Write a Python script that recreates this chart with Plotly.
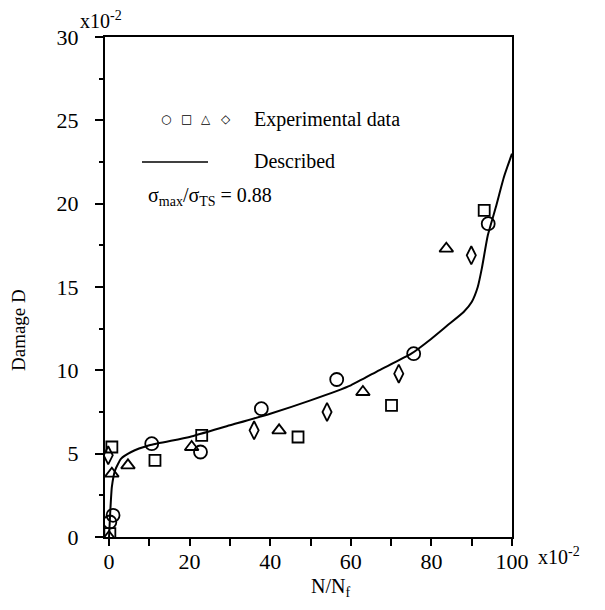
import plotly.graph_objects as go

# ---- data (units of x10^-2) ----
circle_x = [0.2, 1.0, 10.6, 22.7, 37.8, 56.5, 75.6, 94.1]
circle_y = [0.9, 1.3, 5.6, 5.1, 7.7, 9.45, 11.0, 18.8]
square_x = [0.2, 0.7, 11.4, 23.0, 46.9, 70.1, 93.1]
square_y = [0.2, 5.4, 4.6, 6.1, 6.0, 7.9, 19.6]
triangle_x = [0.0, 0.7, 4.7, 20.5, 42.2, 63.0, 83.7]
triangle_y = [0.0, 3.8, 4.3, 5.4, 6.4, 8.7, 17.3]
diamond_x = [-0.2, 36.0, 54.1, 71.9, 89.9]
diamond_y = [4.9, 6.4, 7.5, 9.8, 16.9]

curve_x = [0, 0.3, 0.7, 1.5, 3, 5.5, 10, 20, 30, 40, 50, 60, 67, 75, 80, 84, 88, 90, 91.5, 92.5, 94, 96, 98, 100]
curve_y = [0, 1.5, 3.0, 4.0, 4.7, 5.1, 5.5, 6.0, 6.7, 7.4, 8.2, 9.1, 10.0, 11.0, 11.9, 12.7, 13.5, 14.1, 15.0, 16.1, 18.1, 19.8, 21.6, 23.0]

x_ticks = [0, 20, 40, 60, 80, 100]
y_ticks = [0, 5, 10, 15, 20, 25, 30]

# ---- layout geometry (page pixels; the page body has an 8px margin) ----
PAGE_W, PAGE_H = 605, 610
OFF = 8
W, H = PAGE_W - OFF, PAGE_H - OFF
# plot area in page pixels
PX0, PX1, PY0, PY1 = 105, 512, 37, 537
L, R, T, B = PX0 - OFF, PAGE_W - PX1, PY0 - OFF, PAGE_H - PY1
PW, PH = PX1 - PX0, PY1 - PY0

def px(x):
    return (x - PX0) / PW

def py(y):
    return (PY1 - y) / PH

SERIF = "Liberation Serif"
BLACK = "black"

fig = go.Figure()

fig.add_trace(go.Scatter(x=curve_x, y=curve_y, mode="lines",
                         line=dict(color=BLACK, width=2, shape="spline", smoothing=0.5),
                         hoverinfo="skip", showlegend=False))

def marker_trace(xs, ys, symbol, size):
    return go.Scatter(x=xs, y=ys, mode="markers", showlegend=False,
                      marker=dict(symbol=symbol, size=size, color=BLACK,
                                  line=dict(color=BLACK, width=1.8)))

fig.add_trace(marker_trace(circle_x, circle_y, "circle-open", 13))
fig.add_trace(marker_trace(square_x, square_y, "square-open", 11))
fig.add_trace(marker_trace(triangle_x, triangle_y, "triangle-up-open", 12))
fig.add_trace(marker_trace(diamond_x, diamond_y, "diamond-tall-open", 13))

fig.update_xaxes(range=[-1, 100], tickvals=x_ticks, ticktext=[str(v) for v in x_ticks],
                 ticks="outside", ticklen=7, tickwidth=1.5, tickcolor=BLACK,
                 minor=dict(dtick=10, tick0=0, ticks="outside", ticklen=7, tickwidth=1.5, tickcolor=BLACK),
                 showline=True, linewidth=2, linecolor=BLACK, mirror=True,
                 showgrid=False, zeroline=False,
                 tickfont=dict(family=SERIF, size=22, color=BLACK), ticklabelstandoff=-3)
fig.update_yaxes(range=[0, 30], tickvals=y_ticks, ticktext=[str(v) for v in y_ticks],
                 ticks="outside", ticklen=8, tickwidth=1.5, tickcolor=BLACK,
                 minor=dict(dtick=2.5, tick0=0, ticks="outside", ticklen=4, tickwidth=1.5, tickcolor=BLACK),
                 showline=True, linewidth=2, linecolor=BLACK, mirror=True,
                 showgrid=False, zeroline=False,
                 tickfont=dict(family=SERIF, size=22, color=BLACK), ticklabelstandoff=12)

ann = []
def text(x, y, s, size=20, xanchor="left", angle=0, family=SERIF):
    ann.append(dict(x=px(x), y=py(y), xref="paper", yref="paper", text=s, showarrow=False,
                    xanchor=xanchor, yanchor="middle", textangle=angle,
                    font=dict(family=family, size=size, color=BLACK)))

text(78, 20, "x10<sup>-2</sup>", 20)
text(536, 556, "x10<sup>-2</sup>", 20)
text(330, 587, "N/N<sub>f</sub>", 20, xanchor="center")
text(18, 330, "Damage D", 19, xanchor="center", angle=-90)

# legend-like text block
for gx, g in zip([166, 186, 206, 226], ["○", "□", "△", "◇"]):
    text(gx, 119, g, 12, xanchor="center", family="DejaVu Sans")
text(252, 119, "Experimental data", 20)
text(252, 161, "Described", 20)
text(146, 197, "σ<sub>max</sub>/σ<sub>TS</sub> = 0.88", 20)

fig.update_layout(
    width=W, height=H, margin=dict(l=L, r=R, t=T, b=B, pad=0),
    paper_bgcolor="white", plot_bgcolor="white", showlegend=False,
    annotations=ann,
    shapes=[dict(type="line", xref="paper", yref="paper", x0=px(142), x1=px(208),
                 y0=py(162), y1=py(162), line=dict(color=BLACK, width=1.5))],
)

fig.write_html("out.html")
